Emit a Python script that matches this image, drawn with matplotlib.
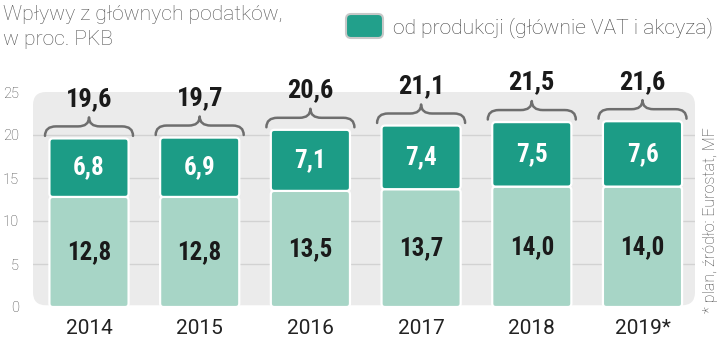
import matplotlib
matplotlib.use("Agg")
import matplotlib.pyplot as plt
import matplotlib.font_manager as fm
from matplotlib.patches import FancyBboxPatch
from matplotlib.path import Path
from matplotlib.patches import PathPatch

# ---- data ----
years = ["2014", "2015", "2016", "2017", "2018", "2019*"]
other_taxes = [12.8, 12.8, 13.5, 13.7, 14.0, 14.0]
production_taxes = [6.8, 6.9, 7.1, 7.4, 7.5, 7.6]
totals = [19.6, 19.7, 20.6, 21.1, 21.5, 21.6]
yticks = [0, 5, 10, 15, 20, 25]

title = "Wpływy z głównych podatków,\nw proc. PKB"
legend_label = "od produkcji (głównie VAT i akcyza)"
note = "* plan, źródło: Eurostat, MF"

DARK = "#1c9c86"
LIGHT = "#a7d5c6"
PANEL = "#ebebeb"
GRID = "#d2d2d2"

# ---- fonts ----
names = {f.name for f in fm.fontManager.ttflist}
cond_kw = None
for c in ["Roboto Condensed", "Liberation Sans Narrow", "Open Sans Condensed"]:
    if c in names:
        cond_kw = dict(family=c, weight="bold")
        break
if cond_kw is None:
    cond_kw = dict(family="DejaVu Sans", weight="bold", stretch="condensed")
light_family = "Roboto" if "Roboto" in names else "DejaVu Sans"
light_kw = dict(family=light_family, weight="light")

fig = plt.figure(figsize=(7.2, 3.37), dpi=100)
# pixel mapping: x_px = 89 + 110.7*x ; y_px = 307 - 8.6*y
ax = fig.add_axes([33 / 720, (337 - 309) / 337, 662 / 720, (309 - 40) / 337])
xlim = ((33 - 89) / 110.7, (695 - 89) / 110.7)
ylim = ((307 - 309) / 8.6, (307 - 40) / 8.6)
ax.set_xlim(*xlim)
ax.set_ylim(*ylim)
for s in ax.spines.values():
    s.set_visible(False)
ax.patch.set_alpha(0)

xu, yu = 110.7, 8.6  # px per unit
asp = xu / yu

# panel
panel = FancyBboxPatch((xlim[0], 0.2), xlim[1] - xlim[0], 25 - 0.2,
                       boxstyle="round,pad=0,rounding_size=%f" % (13 / xu),
                       mutation_aspect=asp, facecolor=PANEL, edgecolor="none", zorder=0)
ax.add_patch(panel)
for g in yticks[1:-1]:
    ax.plot([xlim[0], xlim[1]], [g, g], color=GRID, lw=1.0, zorder=1)

x = list(range(len(years)))
width = 0.715

b1 = ax.bar(x, other_taxes, width=width, color=LIGHT, zorder=2)
b2 = ax.bar(x, production_taxes, width=width, bottom=other_taxes, color=DARK, zorder=2)
for bars in (b1, b2):
    for r in bars:
        rx, ry, rw, rh = r.get_x(), r.get_y(), r.get_width(), r.get_height()
        p = FancyBboxPatch((rx, ry), rw, rh,
                           boxstyle="round,pad=0,rounding_size=%f" % (3.5 / xu),
                           mutation_aspect=asp, facecolor=r.get_facecolor(),
                           edgecolor="white", lw=1.6, zorder=3)
        ax.add_patch(p)
        r.remove()

# value labels
for i in x:
    ax.text(i, other_taxes[i] / 2, f"{other_taxes[i]:.1f}".replace(".", ","),
            ha="center", va="center", fontsize=18, color="#1a1a1a", zorder=5, **cond_kw)
    ax.text(i, other_taxes[i] + production_taxes[i] / 2,
            f"{production_taxes[i]:.1f}".replace(".", ","),
            ha="center", va="center", fontsize=18, color="white", zorder=5, **cond_kw)

# braces and totals
half = 44 / xu
r = 11 / xu
for i in x:
    t = totals[i]
    yb, yh, yt = t + 0.3, t + 1.4, t + 2.45
    xl, xc, xr = i - half, i, i + half
    verts = [(xl, yb), (xl, yh), (xl + r, yh),
             (xc - r, yh), (xc, yh), (xc, yt),
             (xc, yh), (xc + r, yh),
             (xr - r, yh), (xr, yh), (xr, yb)]
    codes = [Path.MOVETO, Path.CURVE3, Path.CURVE3,
             Path.LINETO, Path.CURVE3, Path.CURVE3,
             Path.CURVE3, Path.CURVE3,
             Path.LINETO, Path.CURVE3, Path.CURVE3]
    ax.add_patch(PathPatch(Path(verts, codes), facecolor="none", edgecolor="#6e6e6e",
                           lw=1.8, capstyle="round", joinstyle="round", zorder=4,
                           clip_on=False))
    ax.text(i, t + 3.2, f"{t:.1f}".replace(".", ","), ha="center", va="bottom",
            fontsize=19, color="#1a1a1a", zorder=5, clip_on=False, **cond_kw)

# axes ticks
ax.set_xticks(x)
ax.set_xticklabels(years)
ax.set_yticks(yticks)
ax.tick_params(axis="both", length=0)
ax.tick_params(axis="x", pad=7, labelsize=15, labelcolor="#222222")
ax.tick_params(axis="y", pad=10, labelsize=10.5, labelcolor="#444444")
for lab in ax.get_xticklabels():
    lab.set_family(light_family)
for lab in ax.get_yticklabels():
    lab.set_family(light_family)
    lab.set_fontweight("light")

# title
fig.text(3 / 720, 1 - 20 / 337, "Wpływy z głównych podatków,", ha="left", va="baseline",
         fontsize=15.2, color="#555555", **light_kw)
fig.text(3 / 720, 1 - 45 / 337, "w proc. PKB", ha="left", va="baseline",
         fontsize=15.2, color="#555555", **light_kw)

# legend
leg_ax = fig.add_axes([0, 0, 1, 1], zorder=-1)
leg_ax.set_xlim(0, 720)
leg_ax.set_ylim(337, 0)
leg_ax.axis("off")
leg_ax.add_patch(FancyBboxPatch((346, 14), 37, 24, boxstyle="round,pad=0,rounding_size=5",
                                facecolor="#22a08b", edgecolor="#c8c8c8", lw=1.5))
fig.text(393 / 720, 1 - 33 / 337, legend_label, ha="left", va="baseline", fontsize=15.2,
         color="#444444", **light_kw)

# note
fig.text(711 / 720, 1 - 313 / 337, note, ha="center", va="bottom", rotation=90,
         fontsize=11.5, color="#444444", **light_kw)

fig.savefig("out.png", dpi=100, facecolor="white")
